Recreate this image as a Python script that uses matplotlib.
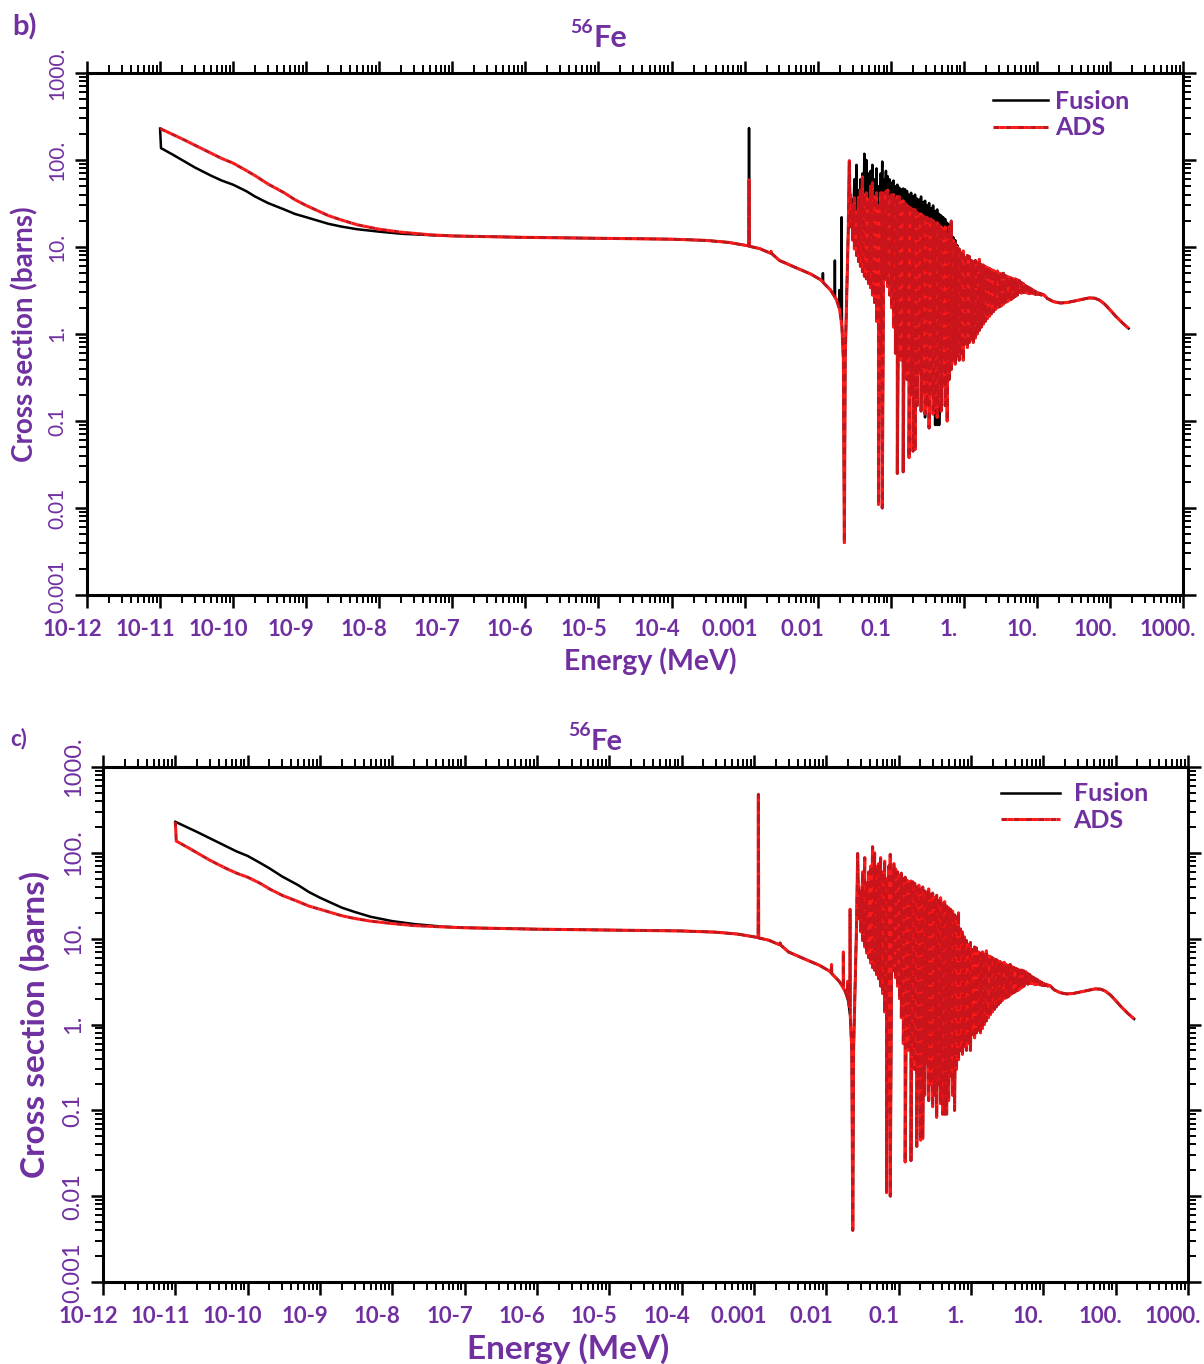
import numpy as np
import matplotlib
matplotlib.use("Agg")
import matplotlib.pyplot as plt
import matplotlib.transforms as mtransforms
from matplotlib.ticker import LogLocator, NullFormatter

plt.rcParams['font.family'] = ['Lato', 'DejaVu Sans']
PURPLE = '#7030A0'
RED_DASH = '#C8141A'
RED_GAP = '#FF1A1A'

# ---------------- data (energies in MeV, cross sections in barns) ----------------
# low-energy branch: smooth 1/v-like curve
smooth_E = [1.0e-11, 1.5e-11, 2e-11, 3e-11, 5e-11, 7e-11, 1e-10, 1.5e-10, 2e-10, 3e-10,
            5e-10, 7e-10, 1e-9, 2e-9, 3e-9, 5e-9, 1e-8, 2e-8, 5e-8, 1e-7,
            1e-6, 1e-5, 1e-4, 3e-4, 6e-4, 1.0e-3]
smooth_xs = [230, 196, 175, 148, 120, 104, 92, 76, 66, 53,
             42, 35, 30, 23, 20.5, 18, 16, 14.8, 13.8, 13.4,
             12.9, 12.6, 12.3, 11.9, 11.3, 10.5]
# low-energy branch with a step at the first point
drop_E = [1.0e-11, 1.03e-11, 1.5e-11, 2e-11, 3e-11, 5e-11, 7e-11, 1e-10, 1.5e-10, 2e-10,
          3e-10, 5e-10, 7e-10, 1e-9, 2e-9, 3e-9, 5e-9, 1e-8, 2e-8, 5e-8,
          1e-7, 1e-6, 1e-5, 1e-4, 3e-4, 6e-4, 1.0e-3]
drop_xs = [230, 137, 115, 100, 82, 66, 58, 52, 44, 38,
           32, 27, 24, 22, 18.5, 17.2, 16, 15, 14.2, 13.7,
           13.4, 12.9, 12.6, 12.3, 11.9, 11.3, 10.5]

# 1.15 keV resonance
spike_E = [1.14e-3, 1.15e-3, 1.16e-3]
spike_base = [10.3, 10.2]
spike_fus_b = 233
spike_ads_b = 59
spike_fus_c = 59
spike_ads_c = 480

# 1 keV - 28 keV region
mid_E = [1.6e-3, 2.25e-3, 2.3e-3, 2.35e-3, 3e-3, 5e-3, 8e-3, 0.011, 0.015, 0.018,
         0.020, 0.0215, 0.0225, 0.0232, 0.0238, 0.0250, 0.0262, 0.0271, 0.0276]
mid_xs = [9.6, 8.5, 8.9, 8.4, 7.0, 5.8, 4.9, 4.2, 3.2, 2.5,
          1.9, 1.2, 0.5, 0.004, 0.5, 3.0, 15, 98, 40]
mid_hi_E = [1.6e-3, 2.25e-3, 2.3e-3, 2.35e-3, 3e-3, 5e-3, 8e-3, 0.011, 0.0117, 0.0118,
            0.0119, 0.015, 0.0171, 0.0172, 0.0173, 0.018, 0.0196, 0.0198, 0.0200, 0.0211,
            0.0213, 0.0215, 0.0225, 0.0232, 0.0238, 0.0250, 0.0262, 0.0271, 0.0276]
mid_hi_xs = [9.6, 8.5, 8.9, 8.4, 7.0, 5.8, 4.9, 4.2, 4.0, 5.0,
             3.9, 3.2, 2.7, 7.0, 2.6, 2.5, 2.1, 3.2, 2.0, 1.6,
             22, 1.2, 0.5, 0.004, 0.5, 3.0, 15, 98, 40]

# resolved resonance region: upper / lower excursions at each energy
res_E = [0.0282, 0.0300, 0.0318, 0.0340, 0.0362, 0.0385, 0.0410, 0.0436, 0.0465, 0.0496,
         0.0530, 0.0562, 0.0600, 0.0640, 0.0680, 0.0728, 0.0765, 0.0810, 0.0860, 0.0910,
         0.0965, 0.103, 0.109, 0.116, 0.123, 0.131, 0.139, 0.148, 0.157, 0.167,
         0.178, 0.190, 0.202, 0.215, 0.229, 0.244, 0.260, 0.277, 0.295, 0.314,
         0.335, 0.357, 0.380, 0.405, 0.432, 0.460, 0.490, 0.522, 0.556, 0.592,
         0.630, 0.672, 0.716, 0.762, 0.812, 0.865, 0.921, 0.981, 1.05, 1.12,
         1.19, 1.27, 1.35, 1.44, 1.53, 1.63, 1.74, 1.85, 1.97, 2.10,
         2.24, 2.38, 2.54, 2.70, 2.88, 3.07, 3.27, 3.48, 3.71, 3.95,
         4.21, 4.48, 4.77, 5.08, 5.41, 5.77, 6.14, 6.54, 6.97, 7.42,
         7.90, 8.42, 8.96, 9.55, 10.2, 10.8, 11.5]
lo_top = [37, 30, 37, 25, 37, 45, 64, 40, 42, 35,
          50, 55, 38, 42, 30, 42, 42, 35, 44, 45,
          38, 40, 40, 36, 38, 38, 33, 34, 32, 30,
          29, 28, 27, 27, 25, 24, 24, 23, 22, 22,
          21, 21, 20, 19, 19, 18, 17, 16, 17, 14,
          17, 19.6, 12, 11, 10, 9.5, 8.5, 9.0, 7.5, 8.0,
          7.8, 7.0, 6.8, 7.0, 6.6, 7.2, 6.3, 6.2, 6.0, 5.8,
          5.7, 5.5, 5.4, 5.2, 5.3, 5.0, 4.9, 5.0, 4.7, 4.6,
          4.5, 4.4, 4.3, 4.3, 4.2, 4.1, 3.9, 3.8, 3.6, 3.5,
          3.4, 3.3, 3.2, 3.1, 3.0, 2.95, 2.9]
lo_bot = [17, 12, 9.5, 8.0, 6.8, 6.0, 5.2, 4.6, 4.3, 3.8,
          3.4, 2.8, 2.3, 1.4, 0.011, 0.6, 0.010, 5.0, 4.2, 3.5,
          2.8, 2.0, 1.2, 0.6, 0.025, 0.9, 0.5, 0.026, 0.4, 0.3,
          0.038, 0.2, 0.045, 0.047, 0.15, 0.35, 0.13, 0.2, 0.12, 0.15,
          0.083, 0.2, 0.12, 0.14, 0.11, 0.15, 0.13, 0.25, 0.15, 0.10,
          0.3, 0.39, 0.5, 0.45, 0.55, 0.5, 0.6, 0.5, 0.77, 0.7,
          0.8, 0.86, 0.8, 0.9, 1.0, 1.1, 1.2, 1.3, 1.4, 1.5,
          1.6, 1.7, 1.8, 1.9, 2.0, 2.05, 2.1, 2.2, 2.3, 2.35,
          2.45, 2.5, 2.6, 2.7, 2.8, 3.0, 2.95, 3.0, 3.0, 2.95,
          2.9, 2.95, 2.9, 2.85, 2.85, 2.85, 2.8]
hi_top = [40, 35, 60, 88, 45, 60, 70, 118, 100, 70,
          75, 88, 60, 80, 50, 70, 96, 60, 75, 65,
          60, 55, 58, 50, 52, 48, 46, 47, 46, 44,
          40, 42, 38, 40, 36, 35, 38, 33, 34, 30,
          32, 28, 30, 26, 27, 24, 23, 22, 21, 19,
          18, 20, 13, 12, 10.5, 9.5, 8.5, 9.0, 7.5, 8.0,
          7.8, 7.0, 6.8, 7.0, 6.6, 7.2, 6.3, 6.2, 6.0, 5.8,
          5.7, 5.5, 5.4, 5.2, 5.3, 5.0, 4.9, 5.0, 4.7, 4.6,
          4.5, 4.4, 4.3, 4.3, 4.2, 4.1, 3.9, 3.8, 3.6, 3.5,
          3.4, 3.3, 3.2, 3.1, 3.0, 2.95, 2.9]
hi_bot = [17, 12, 9.5, 8.0, 6.8, 6.0, 5.2, 4.6, 4.3, 3.8,
          3.4, 2.8, 2.3, 1.4, 0.011, 0.6, 0.010, 5.0, 4.2, 3.5,
          2.8, 2.0, 1.2, 0.6, 0.025, 0.9, 0.5, 0.026, 0.4, 0.3,
          0.038, 0.2, 0.045, 0.047, 0.15, 0.35, 0.13, 0.2, 0.11, 0.15,
          0.083, 0.2, 0.12, 0.09, 0.09, 0.09, 0.13, 0.25, 0.15, 0.10,
          0.3, 0.39, 0.5, 0.45, 0.55, 0.5, 0.6, 0.5, 0.77, 0.7,
          0.8, 0.86, 0.8, 0.9, 1.0, 1.1, 1.2, 1.3, 1.4, 1.5,
          1.6, 1.7, 1.8, 1.9, 2.0, 2.05, 2.1, 2.2, 2.3, 2.35,
          2.45, 2.5, 2.6, 2.7, 2.8, 3.0, 2.95, 3.0, 3.0, 2.95,
          2.9, 2.95, 2.9, 2.85, 2.85, 2.85, 2.8]

# high-energy smooth tail
tail_E = [12.3, 14, 17, 21, 26, 33, 42, 52, 62, 72, 85, 100, 120, 150, 180]
tail_xs = [2.85, 2.55, 2.35, 2.27, 2.3, 2.4, 2.5, 2.6, 2.58, 2.45, 2.2, 1.9, 1.6, 1.33, 1.16]

xtick_vals = [1e-12, 1e-11, 1e-10, 1e-9, 1e-8, 1e-7, 1e-6, 1e-5, 1e-4, 1e-3, 1e-2, 1e-1, 1, 10, 100, 1000]
xtick_labels = ['10-12', '10-11', '10-10', '10-9', '10-8', '10-7', '10-6', '10-5', '10-4',
                '0.001', '0.01', '0.1', '1.', '10.', '100.', '1000.']
ytick_vals = [1e-3, 1e-2, 1e-1, 1, 10, 100, 1000]
ytick_labels = ['0.001', '0.01', '0.1', '1.', '10.', '100.', '1000.']


def build(low_E, low_xs, spike_h, m_E, m_xs, top, bot):
    z_E = np.repeat(np.asarray(res_E), 2)
    z_xs = np.column_stack([top, bot]).ravel()
    E = np.concatenate([low_E, spike_E, m_E, z_E, tail_E])
    xs = np.concatenate([low_xs, [spike_base[0], spike_h, spike_base[1]], m_xs, z_xs, tail_xs])
    return E, xs


fig = plt.figure(figsize=(12.04, 13.64), dpi=100)
ax_b = fig.add_axes([87 / 1204, 1 - 595 / 1364, (1183 - 87) / 1204, (595 - 73) / 1364])
ax_c = fig.add_axes([103 / 1204, 1 - 1282 / 1364, (1188 - 103) / 1204, (1282 - 767) / 1364])

series = {
    'b': (build(drop_E, drop_xs, spike_fus_b, mid_hi_E, mid_hi_xs, hi_top, hi_bot),
          build(smooth_E, smooth_xs, spike_ads_b, mid_E, mid_xs, lo_top, lo_bot)),
    'c': (build(smooth_E, smooth_xs, spike_fus_c, mid_E, mid_xs, lo_top, lo_bot),
          build(drop_E, drop_xs, spike_ads_c, mid_hi_E, mid_hi_xs, hi_top, hi_bot)),
}

cfg = {
    'b': dict(ax=ax_b, xtfs=16, ytfs=15, ylfs=20, xlfs=20.5, ylx=-0.0447, xly=-0.101,
              xlx=0.514, legfs=18, leg_anchor=(0.951, 0.968), hl=2.2, htp=0.28, xpad=8),
    'c': dict(ax=ax_c, xtfs=16, ytfs=17, ylfs=24, xlfs=24, ylx=-0.0488, xly=-0.099,
              xlx=0.4286, legfs=18, leg_anchor=(0.963, 0.970), hl=2.35, htp=0.55, xpad=8),
}

for key in ['b', 'c']:
    c = cfg[key]
    ax = c['ax']
    (fE, fxs), (aE, axs) = series[key]
    ax.set_xscale('log')
    ax.set_yscale('log')
    ax.plot(fE, fxs, color='black', lw=1.8, label='Fusion', zorder=2)
    ax.plot(aE, axs, color=RED_DASH, gapcolor=RED_GAP, lw=2.2, ls=(0, (2.0, 2.0)),
            label='ADS', zorder=3)
    ax.set_xlim(1e-12, 1e3)
    ax.set_ylim(1e-3, 1e3)

    ax.set_xticks(xtick_vals)
    ax.set_xticklabels(xtick_labels, fontsize=c['xtfs'], fontweight='bold', color=PURPLE)
    ax.set_yticks(ytick_vals)
    ax.set_yticklabels(ytick_labels, fontsize=c['ytfs'], color=PURPLE, rotation=90, va='center')
    ax.xaxis.set_minor_locator(LogLocator(base=10, subs=np.arange(2, 10), numticks=300))
    ax.yaxis.set_minor_locator(LogLocator(base=10, subs=np.arange(2, 10), numticks=300))
    ax.xaxis.set_minor_formatter(NullFormatter())
    ax.yaxis.set_minor_formatter(NullFormatter())
    ax.tick_params(which='major', direction='out', length=9, width=1.8,
                   top=True, right=True)
    ax.tick_params(axis='x', which='major', pad=c['xpad'])
    ax.tick_params(axis='y', which='major', pad=5)
    ax.tick_params(which='minor', direction='out', length=6, width=1.4,
                   top=True, right=True)
    for sp in ax.spines.values():
        sp.set_linewidth(2.2)

    shift = mtransforms.ScaledTranslation(-0.15, 0, fig.dpi_scale_trans)
    for lbl in ax.xaxis.get_majorticklabels():
        lbl.set_transform(lbl.get_transform() + shift)
    # lowest y label sits slightly above its tick, clear of the x labels
    up = mtransforms.ScaledTranslation(0, 0.09, fig.dpi_scale_trans)
    ylbls = ax.yaxis.get_majorticklabels()
    ylbls[0].set_transform(ylbls[0].get_transform() + up)

    ax.set_ylabel('Cross section (barns)', fontsize=c['ylfs'], fontweight='bold', color=PURPLE)
    ax.yaxis.set_label_coords(c['ylx'], 0.5)
    ax.set_xlabel('Energy (MeV)', fontsize=c['xlfs'], fontweight='bold', color=PURPLE)
    ax.xaxis.set_label_coords(c['xlx'], c['xly'])

    leg = ax.legend(loc='upper right', bbox_to_anchor=c['leg_anchor'], frameon=False,
                    fontsize=c['legfs'], handlelength=c['hl'], handletextpad=c['htp'],
                    labelspacing=0.15, borderaxespad=0, borderpad=0)
    for t in leg.get_texts():
        t.set_color(PURPLE)
        t.set_fontweight('bold')

# titles and panel letters
fig.text(593 / 1204, 1 - 47 / 1364, 'Fe', ha='left', va='baseline', fontsize=22,
         fontweight='bold', color=PURPLE)
fig.text(593 / 1204, 1 - 33 / 1364, '56', ha='right', va='baseline', fontsize=14,
         fontweight='bold', color=PURPLE)
fig.text(591 / 1204, 1 - 750 / 1364, 'Fe', ha='left', va='baseline', fontsize=21,
         fontweight='bold', color=PURPLE)
fig.text(591 / 1204, 1 - 736 / 1364, '56', ha='right', va='baseline', fontsize=14,
         fontweight='bold', color=PURPLE)
fig.text(12 / 1204, 1 - 35 / 1364, 'b)', ha='left', va='baseline', fontsize=21,
         fontweight='bold', color=PURPLE)
fig.text(10 / 1204, 1 - 745 / 1364, 'c)', ha='left', va='baseline', fontsize=16,
         fontweight='bold', color=PURPLE)

fig.savefig('out.png', dpi=100)
